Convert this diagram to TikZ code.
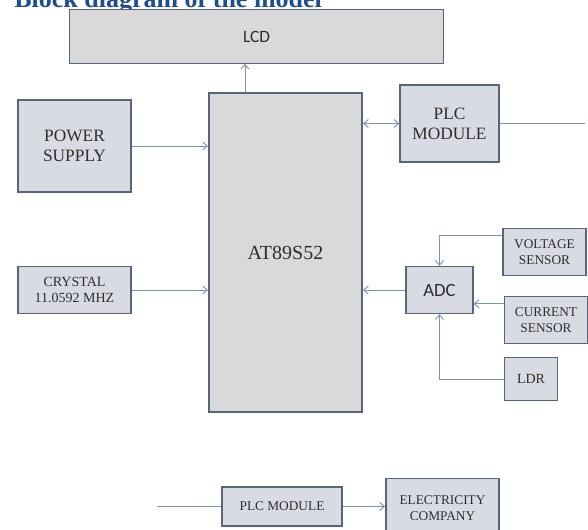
\documentclass[tikz,border=0pt]{standalone}
\usepackage{fontspec}
\setmainfont{Liberation Serif}
\newfontfamily\calib{Carlito}
\usepackage{tikz}
\usetikzlibrary{calc,arrows.meta,positioning}
\definecolor{edgex}{HTML}{56657A}
\definecolor{fillx}{HTML}{D8DCE2}
\definecolor{chipx}{HTML}{D9D9DB}
\definecolor{linkx}{HTML}{7E93B4}
\definecolor{titlex}{HTML}{1F4E8C}
\definecolor{inkx}{HTML}{2E2E2E}
\tikzset{
  blk/.style={draw=edgex,line width=1.2pt,fill=fillx,align=center,inner sep=0pt,text=inkx},
  ar/.style={-{Straight Barb[length=3.5pt,width=6pt]},linkx,line width=0.7pt},
  arr/.style={{Straight Barb[length=3.5pt,width=6pt]}-{Straight Barb[length=3.5pt,width=6pt]},linkx,line width=0.7pt},
  ln/.style={linkx,line width=0.7pt}
}
\begin{document}
\begin{tikzpicture}[x=0.75pt,y=-0.75pt]
\useasboundingbox (0,0) rectangle (588,529);
\node[anchor=base west,text=titlex,font=\bfseries\fontsize{19.5}{22}\selectfont,inner sep=0pt] (title) at (14,7) {Block diagram of the model};
% main blocks
\node[blk,fill=chipx,line width=0.9pt,minimum width=281pt,minimum height=40pt,font=\calib\fontsize{13}{15}\selectfont] (lcd) at (256.5,36.5) {LCD};
\node[blk,fill=chipx,minimum width=115pt,minimum height=239pt,font=\fontsize{15}{17}\selectfont] (mcu) at (285.5,252.5) {AT89S52};
\node[blk,minimum width=85pt,minimum height=69pt,font=\fontsize{13}{15}\selectfont] (psu) at (74.5,146) {POWER\\SUPPLY};
\node[blk,minimum width=85pt,minimum height=35pt,font=\fontsize{10.5}{12}\selectfont] (xtal) at (74.5,290) {CRYSTAL\\11.0592 MHZ};
\node[blk,minimum width=74pt,minimum height=58pt,font=\fontsize{13}{15}\selectfont] (plc) at (449.5,123.5) {PLC\\MODULE};
\node[blk,minimum width=50pt,minimum height=35pt,font=\calib\fontsize{14}{16}\selectfont] (adc) at (439.5,290) {ADC};
% sensors
\node[blk,minimum width=62pt,minimum height=35pt,font=\fontsize{10}{12}\selectfont] (vsen) at (544.5,252) {VOLTAGE\\SENSOR};
\node[blk,minimum width=62pt,minimum height=35pt,font=\fontsize{10}{12}\selectfont] (csen) at (546,320) {CURRENT\\SENSOR};
\node[blk,minimum width=40pt,minimum height=32pt,font=\fontsize{10.5}{12}\selectfont] (ldr) at (531,379) {LDR};
% receiving side
\node[blk,minimum width=90pt,minimum height=29pt,font=\fontsize{10}{12}\selectfont] (plcb) at (282,506.5) {PLC MODULE};
\node[blk,minimum width=85pt,minimum height=44pt,font=\fontsize{10}{12}\selectfont] (elec) at (442.5,508) {ELECTRICITY\\COMPANY};
\coordinate (plcout) at (585,123.5);
\coordinate (plcin) at (157,506.5);
% links
\draw[ar] (mcu.north -| 245,0) -- (lcd.south -| 245,0);
\draw[ar] (psu) -- (psu -| mcu.west);
\draw[ar] (xtal) -- (xtal -| mcu.west);
\draw[arr] (plc -| mcu.east) -- (plc.west);
\draw[ln] (plc) -- (plcout);
\draw[ar] (adc) -- (adc -| mcu.east);
\path ($(vsen.north west)+(0,8)$) coordinate (vs) ($(csen.north west)+(0,8)$) coordinate (cs);
\draw[ar] (vs) -| (adc.north);
\draw[ar] (cs) -- (cs -| adc.east);
\draw[ar] (ldr.west) -| (adc.south);
\draw[ln] (plcin) -- (plcb);
\draw[ar] (plcb) -- (plcb -| elec.west);
\end{tikzpicture}
\end{document}
